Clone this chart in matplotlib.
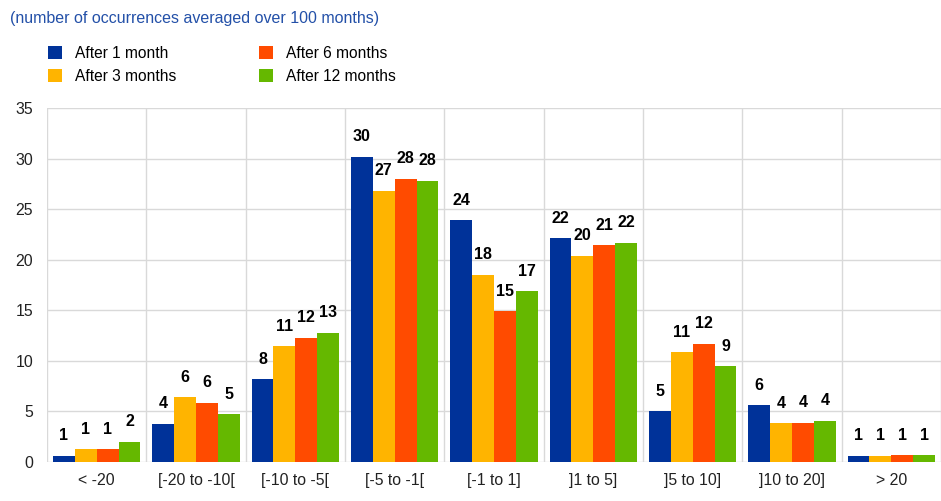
import numpy as np
import matplotlib.pyplot as plt

plt.rcParams['font.family'] = ['Liberation Sans', 'DejaVu Sans']

categories = ['< -20', '[-20 to -10[', '[-10 to -5[', '[-5 to -1[', '[-1 to 1]',
              ']1 to 5]', ']5 to 10]', ']10 to 20]', '> 20']
after_1 = [0.63, 3.8, 8.2, 30.2, 23.9, 22.1, 5.0, 5.6, 0.63]
after_3 = [1.26, 6.4, 11.45, 26.8, 18.5, 20.4, 10.85, 3.83, 0.63]
after_6 = [1.26, 5.85, 12.3, 28.0, 14.9, 21.45, 11.7, 3.9, 0.65]
after_12 = [2.0, 4.7, 12.8, 27.8, 16.9, 21.7, 9.46, 4.06, 0.65]

series = [after_1, after_3, after_6, after_12]
names = ['After 1 month', 'After 3 months', 'After 6 months', 'After 12 months']
colors = ['#003299', '#FFB400', '#FF4B00', '#65B800']

fig = plt.figure(figsize=(9.41, 5.01), dpi=100)
ax = fig.add_axes([47 / 941, 39 / 501, 894 / 941, 354 / 501])

x = np.arange(len(categories))
w = 0.22
handles = []
for i, (vals, name, col) in enumerate(zip(series, names, colors)):
    pos = x + (i - 1.5) * w
    bars = ax.bar(pos, vals, width=w, color=col, edgecolor='none', label=name, zorder=3)
    handles.append(bars)
    for p, v in zip(pos, vals):
        ax.annotate(f'{round(v):d}', (p, v), xytext=(0, 20), textcoords='offset pixels',
                    ha='center', va='center', fontsize=11.5, fontweight='bold', color='black')

ax.set_xlim(-0.5, -0.5 + 894 / 100.5)
ax.set_ylim(0, 35)
ax.set_yticks(np.arange(0, 36, 5))
ax.set_xticks(x)
ax.set_xticklabels(categories)
ax.set_xticks(np.arange(-0.5, len(categories), 1), minor=True)
ax.grid(axis='y', color='#d9d9d9', linewidth=1, zorder=0)
ax.grid(axis='x', which='minor', color='#d9d9d9', linewidth=1, zorder=0)
ax.grid(axis='x', which='major', visible=False)
for s in ax.spines.values():
    s.set_visible(False)
ax.tick_params(axis='both', which='both', length=0, labelsize=11.4, colors='#222222')
ax.tick_params(axis='y', pad=10)
ax.tick_params(axis='x', pad=8)

fig.text(10 / 941, 1 - 18 / 501, '(number of occurrences averaged over 100 months)',
         color='#2350A8', fontsize=11.5, va='center', ha='left')

fig.legend(handles=handles, labels=names, ncol=2, loc='upper left',
           bbox_to_anchor=(34 / 941, 1 - 32 / 501), frameon=False, fontsize=11.2,
           handlelength=0.9, handleheight=0.9, handletextpad=0.85,
           columnspacing=5.3, labelspacing=0.5)

fig.savefig('out.png', dpi=100)
